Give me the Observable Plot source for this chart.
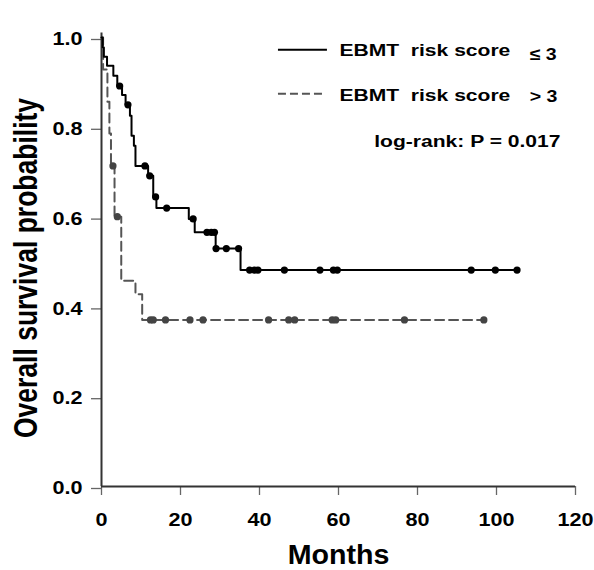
<!DOCTYPE html>
<html><head><meta charset="utf-8">
<script src="https://cdn.jsdelivr.net/npm/d3@7"></script>
<script src="https://cdn.jsdelivr.net/npm/@observablehq/plot@0.6"></script>
<style>
body{margin:0;background:#fff}
</style></head><body><div id="chart"></div>
<script>
// EBMT risk score <= 3 : Kaplan-Meier step points
const lowTime = [0, 0.3, 0.6, 1.4, 3.0, 4.0, 5.2, 6.1, 7.2, 7.6, 8.2, 8.6, 11.8, 13.1, 13.9, 22.1, 23.6, 28.9, 35.2, 105.2];
const lowSurv = [1.0, 0.978, 0.957, 0.937, 0.915, 0.892, 0.872, 0.850, 0.826, 0.781, 0.759, 0.714, 0.692, 0.645, 0.620, 0.596, 0.566, 0.530, 0.482, 0.482];
// censored observations
const lowCensorTime = [4.6, 6.7, 11.0, 12.2, 13.7, 16.5, 23.2, 26.7, 27.8, 28.6, 29.0, 31.6, 34.7, 37.5, 38.7, 39.6, 46.3, 55.3, 58.7, 59.7, 93.6, 99.7, 105.2];
const lowCensorSurv = [0.892, 0.850, 0.714, 0.692, 0.645, 0.620, 0.596, 0.566, 0.566, 0.566, 0.530, 0.530, 0.530, 0.482, 0.482, 0.482, 0.482, 0.482, 0.482, 0.482, 0.482, 0.482, 0.482];

// EBMT risk score > 3
const highTime = [0, 0.4, 1.5, 2.0, 2.4, 3.3, 5.0, 8.6, 10.3, 96.8];
const highSurv = [1.0, 0.929, 0.857, 0.786, 0.714, 0.601, 0.458, 0.428, 0.371, 0.371];
const highCensorTime = [2.9, 4.0, 12.4, 13.1, 16.2, 22.4, 25.7, 42.3, 47.4, 48.9, 58.4, 59.3, 76.7, 96.8];
const highCensorSurv = [0.714, 0.601, 0.371, 0.371, 0.371, 0.371, 0.371, 0.371, 0.371, 0.371, 0.371, 0.371, 0.371, 0.371];

const xTicks = [0, 20, 40, 60, 80, 100, 120];
const yTicks = [0, 0.2, 0.4, 0.6, 0.8, 1.0];
const legendLabels = ["EBMT\u00a0 risk score", "EBMT\u00a0 risk score"];
const legendSymbols = ["\u2264 3", "> 3"];
const pText = ["log-rank: P = 0.017"];
const xLabel = ["Months"];
const yLabel = ["Overall survival probability"];

const zip = (t, s) => t.map((v, i) => ({t: v, s: s[i]}));
const low = zip(lowTime, lowSurv), lowC = zip(lowCensorTime, lowCensorSurv);
const high = zip(highTime, highSurv), highC = zip(highCensorTime, highCensorSurv);

const font = "'Liberation Sans', Arial, Helvetica, sans-serif";
const chart = Plot.plot({
  width: 594, height: 570,
  marginLeft: 101, marginRight: 19, marginTop: 37, marginBottom: 84,
  style: {fontFamily: font, fontWeight: "bold", background: "#fff", color: "#000"},
  x: {domain: [0, 120], axis: null},
  y: {domain: [0, 1], axis: null},
  marks: [
    Plot.axisY({ticks: yTicks, tickFormat: d3.format(".1f"), tickSize: 10, tickPadding: 9, fontSize: 18, label: null, stroke: "#666", strokeWidth: 1.3, dy: 2}),
    Plot.axisX({ticks: xTicks, tickSize: 9, tickPadding: 18, fontSize: 18, label: null, stroke: "#666", strokeWidth: 1.3}),
    Plot.ruleX([0], {y1: 0, y2: 1.01, stroke: "#333", strokeWidth: 2}),
    Plot.ruleY([0], {x1: 0, x2: 120, stroke: "#333", strokeWidth: 2}),
    Plot.text(xLabel, {frameAnchor: "bottom", textAnchor: "middle", lineAnchor: "bottom", dy: 77, fontSize: 27}),
    Plot.text(yLabel, {frameAnchor: "left", textAnchor: "middle", lineAnchor: "bottom", rotate: -90, dx: -65, dy: 6, fontSize: 26.5}),
    Plot.line(high, {x: "t", y: "s", curve: "step-after", stroke: "#555", strokeWidth: 2, strokeDasharray: "9,5"}),
    Plot.line(low, {x: "t", y: "s", curve: "step-after", stroke: "#000", strokeWidth: 2}),
    Plot.dot(highC, {x: "t", y: "s", r: 3.6, fill: "#444", stroke: "none"}),
    Plot.dot(lowC, {x: "t", y: "s", r: 3.6, fill: "#000", stroke: "none"}),
    // legend
    Plot.ruleY([0.9726], {x1: 44.8, x2: 57.2, stroke: "#000", strokeWidth: 2}),
    Plot.ruleY([0.8746], {x1: 44.8, x2: 56.2, stroke: "#555", strokeWidth: 2, strokeDasharray: "8,4"}),
    Plot.text(legendLabels, {textAnchor: "start", lineAnchor: "bottom", fontSize: 17, x: () => 60.25, y: (d, i) => [0.9577, 0.8590][i]}),
    Plot.text(legendSymbols, {textAnchor: "start", lineAnchor: "bottom", fontSize: 17, x: () => 108.4, y: (d, i) => [0.9505, 0.8568][i]}),
    Plot.text(pText, {textAnchor: "end", lineAnchor: "bottom", fontSize: 17, x: 116.2, y: 0.7566})
  ]
});
document.getElementById("chart").appendChild(chart);

// the reference lettering is horizontally widened; scale each label about its anchor
function stretch(test, sx, sy = 1) {
  chart.querySelectorAll("text").forEach(t => {
    if (!test(t)) return;
    const tr = t.getAttribute("transform") || "";
    const x = parseFloat(t.getAttribute("x")) || 0;
    t.setAttribute("transform", `${tr} translate(${x},0) scale(${sx},${sy}) translate(${-x},0)`);
  });
}
const inGroup = label => t => t.parentNode && t.parentNode.getAttribute("aria-label") === label;
const hasText = list => t => list.includes(t.textContent);
stretch(inGroup("y-axis tick label"), 1.2);
stretch(inGroup("x-axis tick label"), 1.2);
stretch(hasText(xLabel), 1.06);
stretch(hasText(yLabel), 1, 1.25);
stretch(hasText(legendLabels.concat(pText)), 1.24);
stretch(hasText(legendSymbols), 1.15);
</script></body></html>
